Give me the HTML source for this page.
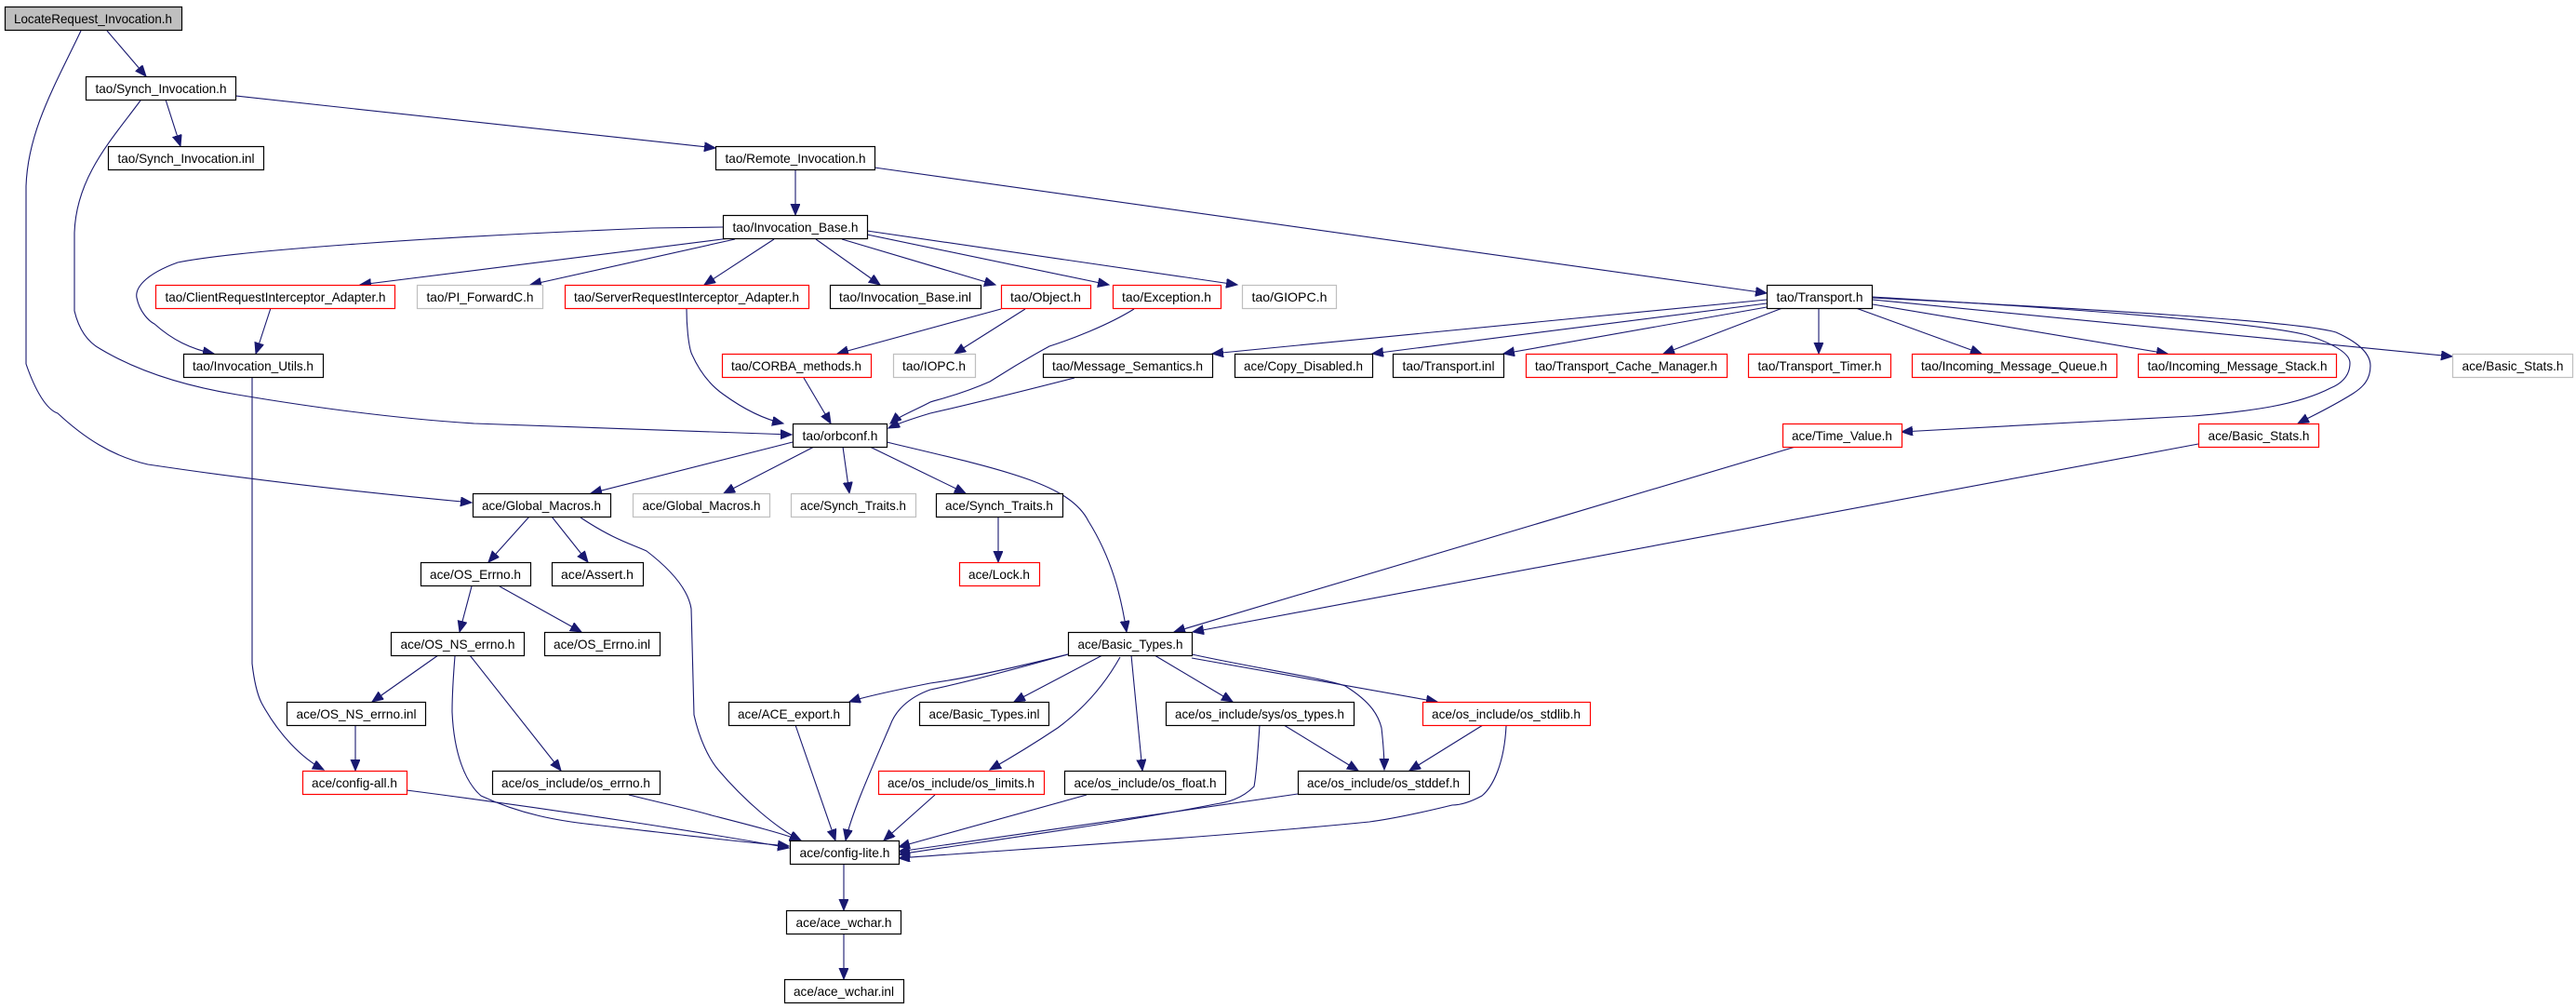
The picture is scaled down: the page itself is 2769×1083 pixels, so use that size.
<!DOCTYPE html>
<html><head><meta charset="utf-8"><style>
html,body{margin:0;padding:0;background:#fff;}
svg{display:block;}
text{font-family:"Liberation Sans",sans-serif;font-size:14px;fill:#000;}
.e{fill:none;stroke:#191970;stroke-width:1.1;}
</style></head><body>
<svg width="2769" height="1083" viewBox="0 0 2769 1083" xmlns="http://www.w3.org/2000/svg">
<defs>
<marker id="a" markerUnits="userSpaceOnUse" markerWidth="14" markerHeight="12" refX="12" refY="5" orient="auto">
<path d="M0,0 L12,5 L0,10 Z" fill="#191970" stroke="#191970"/>
</marker>
</defs>
<g marker-end="url(#a)">
<path class="e" d="M115,33 L157,82"/>
<path class="e" d="M87,33 C60,90 30,140 28,200 L28,391 C38,420 50,440 62,444 C90,470 120,490 159,499 C300,520 420,532 507,540"/>
<path class="e" d="M178,107 L194,157"/>
<path class="e" d="M253,103 L769,159"/>
<path class="e" d="M151,108 C120,150 82,190 80,250 L80,334 C85,355 95,368 108,375 C150,400 200,415 255,424 C350,440 430,450 510,455 C650,460 780,465 851,467"/>
<path class="e" d="M855,182 L855,231"/>
<path class="e" d="M940,180 L1899,315"/>
<path class="e" d="M777,244 L701,245 C450,255 250,270 191,282 C155,295 145,310 147,320 C150,335 160,345 166,348 C185,365 205,375 230,380"/>
<path class="e" d="M792,255 L387,306"/>
<path class="e" d="M790,257 L570,306"/>
<path class="e" d="M832,257 L757,306"/>
<path class="e" d="M877,257 L946,306"/>
<path class="e" d="M905,257 L1070,306"/>
<path class="e" d="M932,252 L1192,306"/>
<path class="e" d="M932,248 L1330,306"/>
<path class="e" d="M291,331 L275,380"/>
<path class="e" d="M738,332 C738,350 740,370 743,379 C752,400 765,415 778,424 C800,440 820,450 842,455"/>
<path class="e" d="M1076,332 L900,380"/>
<path class="e" d="M1102,332 L1026,380"/>
<path class="e" d="M1219,332 C1190,350 1150,365 1128,372 C1095,390 1080,400 1064,410 C1030,425 1005,430 1000,432 C985,440 965,448 957,455"/>
<path class="e" d="M864,406 L893,455"/>
<path class="e" d="M1155,406 C1100,420 1040,435 1000,444 C980,450 965,455 955,460"/>
<path class="e" d="M271,406 L271,713 C273,730 276,745 281,755 C300,790 325,815 348,827"/>
<path class="e" d="M1899,322 L1303,380"/>
<path class="e" d="M1899,326 L1475,380"/>
<path class="e" d="M1899,330 L1616,380"/>
<path class="e" d="M1916,331 L1788,380"/>
<path class="e" d="M1955,331 L1955,380"/>
<path class="e" d="M1995,331 L2130,380"/>
<path class="e" d="M2013,327 L2330,380"/>
<path class="e" d="M2013,322 L2636,383"/>
<path class="e" d="M2013,319 C2200,330 2420,345 2480,360 C2510,370 2526,380 2526,390 C2526,405 2515,413 2505,417 C2470,435 2420,442 2356,447 C2200,455 2100,460 2044,464"/>
<path class="e" d="M2013,320 C2250,332 2470,345 2511,357 C2540,370 2548,383 2548,393 C2548,408 2540,416 2529,423 C2505,438 2485,447 2470,455"/>
<path class="e" d="M852,475 L635,530"/>
<path class="e" d="M875,480 L778,530"/>
<path class="e" d="M906,480 L913,530"/>
<path class="e" d="M935,480 L1038,530"/>
<path class="e" d="M953,475 C1080,505 1150,520 1170,560 C1195,600 1205,640 1211,679"/>
<path class="e" d="M1073,555 L1073,604"/>
<path class="e" d="M1930,480 L1262,679"/>
<path class="e" d="M2363,477 L1282,679"/>
<path class="e" d="M569,555 L525,604"/>
<path class="e" d="M593,555 L632,604"/>
<path class="e" d="M624,556 C660,580 680,585 695,592 C725,615 740,635 743,654 L746,768 C752,795 762,815 772,827 C800,860 835,890 861,903"/>
<path class="e" d="M507,630 L494,679"/>
<path class="e" d="M537,630 L625,679"/>
<path class="e" d="M471,704 L400,754"/>
<path class="e" d="M489,705 C487,730 486,745 486,765 C488,810 500,840 517,855 C560,875 600,882 638,886 C740,898 800,905 848,909"/>
<path class="e" d="M505,704 L603,828"/>
<path class="e" d="M382,779 L382,828"/>
<path class="e" d="M437,849 C600,870 760,895 848,911"/>
<path class="e" d="M676,854 C720,865 745,870 765,876 C800,885 840,895 861,903"/>
<path class="e" d="M855,779 L898,903"/>
<path class="e" d="M1148,703 C1080,720 1030,730 1000,734 C960,742 925,750 913,754"/>
<path class="e" d="M1148,703 C1080,722 1030,735 1000,741 C975,750 962,765 957,779 C935,830 915,875 909,903"/>
<path class="e" d="M1185,704 L1090,754"/>
<path class="e" d="M1204,706 C1185,740 1160,765 1137,782 C1110,800 1085,815 1064,827"/>
<path class="e" d="M1216,704 L1228,828"/>
<path class="e" d="M1241,704 L1325,754"/>
<path class="e" d="M1281,703 C1360,720 1420,728 1446,737 C1475,755 1482,770 1485,782 C1487,800 1488,815 1488,827"/>
<path class="e" d="M1281,707 L1545,754"/>
<path class="e" d="M1380,779 L1460,828"/>
<path class="e" d="M1354,779 C1352,810 1350,835 1348,845 C1335,858 1320,862 1306,864 C1200,885 1050,905 966,918"/>
<path class="e" d="M1594,779 L1515,828"/>
<path class="e" d="M1619,780 C1617,820 1605,845 1593,855 C1580,862 1570,865 1561,865 C1520,875 1495,880 1472,883 C1300,900 1100,912 966,922"/>
<path class="e" d="M1395,853 L966,915"/>
<path class="e" d="M1168,854 L966,910"/>
<path class="e" d="M1005,854 L950,903"/>
<path class="e" d="M907,928 L907,978"/>
<path class="e" d="M907,1003 L907,1052"/>
</g>
<g stroke-width="1.2">
<rect x="5.5" y="7.5" width="190" height="25" fill="#bfbfbf" stroke="#000"/><text x="100" y="25" text-anchor="middle" textLength="170" lengthAdjust="spacingAndGlyphs">LocateRequest_Invocation.h</text>
<rect x="92.5" y="82.5" width="161" height="25" fill="#fff" stroke="#000"/><text x="173" y="100" text-anchor="middle" textLength="141" lengthAdjust="spacingAndGlyphs">tao/Synch_Invocation.h</text>
<rect x="116.5" y="157.5" width="167" height="25" fill="#fff" stroke="#000"/><text x="200" y="175" text-anchor="middle" textLength="147" lengthAdjust="spacingAndGlyphs">tao/Synch_Invocation.inl</text>
<rect x="769.5" y="157.5" width="171" height="25" fill="#fff" stroke="#000"/><text x="855" y="175" text-anchor="middle" textLength="151" lengthAdjust="spacingAndGlyphs">tao/Remote_Invocation.h</text>
<rect x="777.5" y="231.5" width="155" height="25" fill="#fff" stroke="#000"/><text x="855" y="249" text-anchor="middle" textLength="135" lengthAdjust="spacingAndGlyphs">tao/Invocation_Base.h</text>

<rect x="167.5" y="306.5" width="257" height="25" fill="#fff" stroke="#f00"/><text x="296" y="324" text-anchor="middle" textLength="237" lengthAdjust="spacingAndGlyphs">tao/ClientRequestInterceptor_Adapter.h</text>
<rect x="448.5" y="306.5" width="135" height="25" fill="#fff" stroke="#bfbfbf"/><text x="516" y="324" text-anchor="middle" textLength="115" lengthAdjust="spacingAndGlyphs">tao/PI_ForwardC.h</text>
<rect x="607.5" y="306.5" width="262" height="25" fill="#fff" stroke="#f00"/><text x="738" y="324" text-anchor="middle" textLength="242" lengthAdjust="spacingAndGlyphs">tao/ServerRequestInterceptor_Adapter.h</text>
<rect x="892.5" y="306.5" width="162" height="25" fill="#fff" stroke="#000"/><text x="973" y="324" text-anchor="middle" textLength="142" lengthAdjust="spacingAndGlyphs">tao/Invocation_Base.inl</text>
<rect x="1076.5" y="306.5" width="96" height="25" fill="#fff" stroke="#f00"/><text x="1124" y="324" text-anchor="middle" textLength="76" lengthAdjust="spacingAndGlyphs">tao/Object.h</text>
<rect x="1196.5" y="306.5" width="116" height="25" fill="#fff" stroke="#f00"/><text x="1254" y="324" text-anchor="middle" textLength="96" lengthAdjust="spacingAndGlyphs">tao/Exception.h</text>
<rect x="1335.5" y="306.5" width="101" height="25" fill="#fff" stroke="#bfbfbf"/><text x="1386" y="324" text-anchor="middle" textLength="81" lengthAdjust="spacingAndGlyphs">tao/GIOPC.h</text>
<rect x="1899.5" y="306.5" width="113" height="25" fill="#fff" stroke="#000"/><text x="1956" y="324" text-anchor="middle" textLength="93" lengthAdjust="spacingAndGlyphs">tao/Transport.h</text>

<rect x="197.5" y="380.5" width="150" height="25" fill="#fff" stroke="#000"/><text x="272" y="398" text-anchor="middle" textLength="130" lengthAdjust="spacingAndGlyphs">tao/Invocation_Utils.h</text>
<rect x="776.5" y="380.5" width="160" height="25" fill="#fff" stroke="#f00"/><text x="856" y="398" text-anchor="middle" textLength="140" lengthAdjust="spacingAndGlyphs">tao/CORBA_methods.h</text>
<rect x="960.5" y="380.5" width="88" height="25" fill="#fff" stroke="#bfbfbf"/><text x="1004" y="398" text-anchor="middle" textLength="68" lengthAdjust="spacingAndGlyphs">tao/IOPC.h</text>
<rect x="1121.5" y="380.5" width="182" height="25" fill="#fff" stroke="#000"/><text x="1212" y="398" text-anchor="middle" textLength="162" lengthAdjust="spacingAndGlyphs">tao/Message_Semantics.h</text>
<rect x="1327.5" y="380.5" width="148" height="25" fill="#fff" stroke="#000"/><text x="1401" y="398" text-anchor="middle" textLength="128" lengthAdjust="spacingAndGlyphs">ace/Copy_Disabled.h</text>
<rect x="1497.5" y="380.5" width="119" height="25" fill="#fff" stroke="#000"/><text x="1557" y="398" text-anchor="middle" textLength="99" lengthAdjust="spacingAndGlyphs">tao/Transport.inl</text>
<rect x="1640.5" y="380.5" width="216" height="25" fill="#fff" stroke="#f00"/><text x="1748" y="398" text-anchor="middle" textLength="196" lengthAdjust="spacingAndGlyphs">tao/Transport_Cache_Manager.h</text>
<rect x="1879.5" y="380.5" width="153" height="25" fill="#fff" stroke="#f00"/><text x="1956" y="398" text-anchor="middle" textLength="133" lengthAdjust="spacingAndGlyphs">tao/Transport_Timer.h</text>
<rect x="2055.5" y="380.5" width="220" height="25" fill="#fff" stroke="#f00"/><text x="2165" y="398" text-anchor="middle" textLength="200" lengthAdjust="spacingAndGlyphs">tao/Incoming_Message_Queue.h</text>
<rect x="2298.5" y="380.5" width="213" height="25" fill="#fff" stroke="#f00"/><text x="2405" y="398" text-anchor="middle" textLength="193" lengthAdjust="spacingAndGlyphs">tao/Incoming_Message_Stack.h</text>
<rect x="2636.5" y="380.5" width="129" height="25" fill="#fff" stroke="#bfbfbf"/><text x="2701" y="398" text-anchor="middle" textLength="109" lengthAdjust="spacingAndGlyphs">ace/Basic_Stats.h</text>

<rect x="852.5" y="455.5" width="101" height="25" fill="#fff" stroke="#000"/><text x="903" y="473" text-anchor="middle" textLength="81" lengthAdjust="spacingAndGlyphs">tao/orbconf.h</text>
<rect x="1916.5" y="455.5" width="128" height="25" fill="#fff" stroke="#f00"/><text x="1980" y="473" text-anchor="middle" textLength="108" lengthAdjust="spacingAndGlyphs">ace/Time_Value.h</text>
<rect x="2363.5" y="455.5" width="129" height="25" fill="#fff" stroke="#f00"/><text x="2428" y="473" text-anchor="middle" textLength="109" lengthAdjust="spacingAndGlyphs">ace/Basic_Stats.h</text>

<rect x="508.5" y="530.5" width="148" height="25" fill="#fff" stroke="#000"/><text x="582" y="548" text-anchor="middle" textLength="128" lengthAdjust="spacingAndGlyphs">ace/Global_Macros.h</text>
<rect x="680.5" y="530.5" width="147" height="25" fill="#fff" stroke="#bfbfbf"/><text x="754" y="548" text-anchor="middle" textLength="127" lengthAdjust="spacingAndGlyphs">ace/Global_Macros.h</text>
<rect x="850.5" y="530.5" width="134" height="25" fill="#fff" stroke="#bfbfbf"/><text x="917" y="548" text-anchor="middle" textLength="114" lengthAdjust="spacingAndGlyphs">ace/Synch_Traits.h</text>
<rect x="1006.5" y="530.5" width="136" height="25" fill="#fff" stroke="#000"/><text x="1074" y="548" text-anchor="middle" textLength="116" lengthAdjust="spacingAndGlyphs">ace/Synch_Traits.h</text>

<rect x="1031.5" y="604.5" width="86" height="25" fill="#fff" stroke="#f00"/><text x="1074" y="622" text-anchor="middle" textLength="66" lengthAdjust="spacingAndGlyphs">ace/Lock.h</text>
<rect x="452.5" y="604.5" width="118" height="25" fill="#fff" stroke="#000"/><text x="511" y="622" text-anchor="middle" textLength="98" lengthAdjust="spacingAndGlyphs">ace/OS_Errno.h</text>
<rect x="593.5" y="604.5" width="98" height="25" fill="#fff" stroke="#000"/><text x="642" y="622" text-anchor="middle" textLength="78" lengthAdjust="spacingAndGlyphs">ace/Assert.h</text>

<rect x="420.5" y="679.5" width="143" height="25" fill="#fff" stroke="#000"/><text x="492" y="697" text-anchor="middle" textLength="123" lengthAdjust="spacingAndGlyphs">ace/OS_NS_errno.h</text>
<rect x="585.5" y="679.5" width="124" height="25" fill="#fff" stroke="#000"/><text x="647" y="697" text-anchor="middle" textLength="104" lengthAdjust="spacingAndGlyphs">ace/OS_Errno.inl</text>
<rect x="1148.5" y="679.5" width="133" height="25" fill="#fff" stroke="#000"/><text x="1215" y="697" text-anchor="middle" textLength="113" lengthAdjust="spacingAndGlyphs">ace/Basic_Types.h</text>

<rect x="308.5" y="754.5" width="149" height="25" fill="#fff" stroke="#000"/><text x="383" y="772" text-anchor="middle" textLength="129" lengthAdjust="spacingAndGlyphs">ace/OS_NS_errno.inl</text>
<rect x="783.5" y="754.5" width="130" height="25" fill="#fff" stroke="#000"/><text x="848" y="772" text-anchor="middle" textLength="110" lengthAdjust="spacingAndGlyphs">ace/ACE_export.h</text>
<rect x="988.5" y="754.5" width="139" height="25" fill="#fff" stroke="#000"/><text x="1058" y="772" text-anchor="middle" textLength="119" lengthAdjust="spacingAndGlyphs">ace/Basic_Types.inl</text>
<rect x="1253.5" y="754.5" width="202" height="25" fill="#fff" stroke="#000"/><text x="1354" y="772" text-anchor="middle" textLength="182" lengthAdjust="spacingAndGlyphs">ace/os_include/sys/os_types.h</text>
<rect x="1529.5" y="754.5" width="180" height="25" fill="#fff" stroke="#f00"/><text x="1619" y="772" text-anchor="middle" textLength="160" lengthAdjust="spacingAndGlyphs">ace/os_include/os_stdlib.h</text>

<rect x="325.5" y="828.5" width="112" height="25" fill="#fff" stroke="#f00"/><text x="381" y="846" text-anchor="middle" textLength="92" lengthAdjust="spacingAndGlyphs">ace/config-all.h</text>
<rect x="529.5" y="828.5" width="180" height="25" fill="#fff" stroke="#000"/><text x="619" y="846" text-anchor="middle" textLength="160" lengthAdjust="spacingAndGlyphs">ace/os_include/os_errno.h</text>
<rect x="944.5" y="828.5" width="178" height="25" fill="#fff" stroke="#f00"/><text x="1033" y="846" text-anchor="middle" textLength="158" lengthAdjust="spacingAndGlyphs">ace/os_include/os_limits.h</text>
<rect x="1144.5" y="828.5" width="173" height="25" fill="#fff" stroke="#000"/><text x="1231" y="846" text-anchor="middle" textLength="153" lengthAdjust="spacingAndGlyphs">ace/os_include/os_float.h</text>
<rect x="1395.5" y="828.5" width="184" height="25" fill="#fff" stroke="#000"/><text x="1487" y="846" text-anchor="middle" textLength="164" lengthAdjust="spacingAndGlyphs">ace/os_include/os_stddef.h</text>

<rect x="849.5" y="903.5" width="117" height="25" fill="#fff" stroke="#000"/><text x="908" y="921" text-anchor="middle" textLength="97" lengthAdjust="spacingAndGlyphs">ace/config-lite.h</text>
<rect x="845.5" y="978.5" width="123" height="25" fill="#fff" stroke="#000"/><text x="907" y="996" text-anchor="middle" textLength="103" lengthAdjust="spacingAndGlyphs">ace/ace_wchar.h</text>
<rect x="843.5" y="1052.5" width="128" height="25" fill="#fff" stroke="#000"/><text x="907" y="1070" text-anchor="middle" textLength="108" lengthAdjust="spacingAndGlyphs">ace/ace_wchar.inl</text>
</g>
</svg>
</body></html>
